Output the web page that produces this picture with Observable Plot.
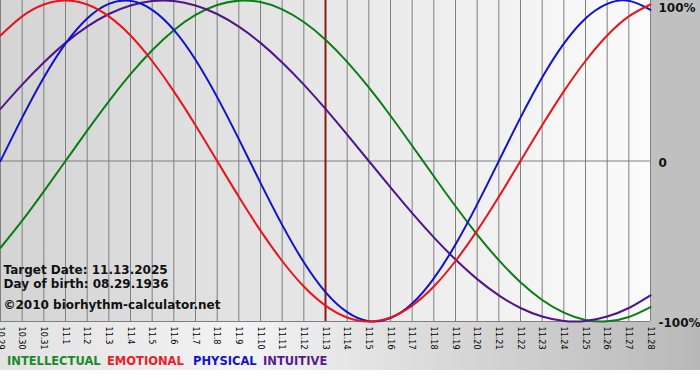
<!DOCTYPE html>
<html>
<head>
<meta charset="utf-8">
<script src="https://cdn.jsdelivr.net/npm/d3@7"></script>
<script src="https://cdn.jsdelivr.net/npm/@observablehq/plot@0.6"></script>
<style>
  html, body { margin: 0; padding: 0; background: #fff; }
  #wrap {
    position: relative; width: 700px; height: 380px; overflow: hidden;
    background:
      linear-gradient(to right, #d4d4d4, #fbfbfb) 0 0 / 650px 321px no-repeat,
      linear-gradient(#c0c0c0, #c0c0c0) 650px 0 / 50px 321px no-repeat,
      linear-gradient(to right, #e2e2e2, #f3f3f3 35%, #b8b8b8) 0 321px / 700px 49px no-repeat,
      #ffffff;
    font-family: "DejaVu Sans", Verdana, sans-serif;
  }
  #chart svg { display: block; background: transparent; }
  #legend { position: absolute; left: 0; top: 350px; width: 700px; height: 22px;
    font: bold 11.5px "DejaVu Sans", Verdana, sans-serif; }
  #legend span { position: absolute; top: 4px; white-space: nowrap; }
</style>
</head>
<body>
<div id="wrap">
  <div id="chart"></div>
  <div id="legend"></div>
</div>
<script>
// ---- data ----
const dayLabels = ["10.29","10.30","10.31","11.1","11.2","11.3","11.4","11.5","11.6","11.7","11.8","11.9","11.10","11.11","11.12","11.13","11.14","11.15","11.16","11.17","11.18","11.19","11.20","11.21","11.22","11.23","11.24","11.25","11.26","11.27","11.28"];
const physical = [0, 27.0, 52.0, 73.1, 88.8, 97.9, 99.8, 94.2, 81.7, 63.1, 39.8, 13.6, -13.6, -39.8, -63.1, -81.7, -94.2, -99.8, -97.9, -88.8, -73.1, -52.0, -27.0, 0, 27.0, 52.0, 73.1, 88.8, 97.9, 99.8, 94.2];
const emotional = [78.2, 90.1, 97.5, 100, 97.5, 90.1, 78.2, 62.3, 43.4, 22.3, 0, -22.3, -43.4, -62.3, -78.2, -90.1, -97.5, -100, -97.5, -90.1, -78.2, -62.3, -43.4, -22.3, 0, 22.3, 43.4, 62.3, 78.2, 90.1, 97.5];
const intellectual = [-54.1, -37.2, -18.9, 0, 18.9, 37.2, 54.1, 69.0, 81.5, 91.0, 97.2, 99.9, 99.0, 94.5, 86.6, 75.6, 61.8, 45.8, 28.2, 9.5, -9.5, -28.2, -45.8, -61.8, -75.6, -86.6, -94.5, -99.0, -99.9, -97.2, -91.0];
const intuitive = [32.5, 47.6, 61.4, 73.6, 83.7, 91.6, 96.9, 99.7, 99.7, 96.9, 91.6, 83.7, 73.6, 61.4, 47.6, 32.5, 16.5, 0, -16.5, -32.5, -47.6, -61.4, -73.6, -83.7, -91.6, -96.9, -99.7, -99.7, -96.9, -91.6, -83.7];
const seriesNames = ["INTELLECTUAL", "EMOTIONAL", "PHYSICAL", "INTUITIVE"];
const yTicks = [100, 0, -100];
const yTickLabels = ["100%", "0", "-100%"];
const targetLabel = "11.13";
const targetDate = "11.13.2025";
const birthDate = "08.29.1936";
const copyright = "\u00a92010 biorhythm-calculator.net";

// ---- styling ----
const colors = {INTELLECTUAL: "#0b7d16", EMOTIONAL: "#e8141c", PHYSICAL: "#1212cc", INTUITIVE: "#4d168a"};
const legendColors = {INTELLECTUAL: "#1a8a2a", EMOTIONAL: "#ee1c24", PHYSICAL: "#1414cc", INTUITIVE: "#5a1a8e"};
const legendLeft = {INTELLECTUAL: 7, EMOTIONAL: 107, PHYSICAL: 193, INTUITIVE: 263};

const values = {INTELLECTUAL: intellectual, EMOTIONAL: emotional, PHYSICAL: physical, INTUITIVE: intuitive};
const drawOrder = ["INTELLECTUAL", "INTUITIVE", "PHYSICAL", "EMOTIONAL"];
const idx = dayLabels.map((_, i) => i);
const targetIndex = dayLabels.indexOf(targetLabel);

const lineMarks = drawOrder.map(name =>
  Plot.line(values[name].map((v, i) => ({i, v})), {
    x: "i", y: "v", stroke: colors[name], strokeWidth: 2, curve: "natural"
  })
);

const bold = {fontWeight: "bold", fontSize: 12, fill: "#111", textAnchor: "start", frameAnchor: "bottom-left", dx: 3, fontFamily: "'DejaVu Sans', sans-serif"};
const yAxisStyle = {anchor: "right", tickSize: 0, tickPadding: 8, fontWeight: "bold", fontSize: 12, fill: "#111", fontFamily: "'DejaVu Sans', sans-serif", label: null};

const chart = Plot.plot({
  width: 700, height: 350,
  marginLeft: 0, marginRight: 50, marginTop: 0, marginBottom: 29,
  style: {background: "transparent", fontFamily: "'DejaVu Sans Condensed', 'DejaVu Sans', sans-serif", fontSize: "9px", color: "#000"},
  x: {domain: [0, dayLabels.length - 1], label: null},
  y: {domain: [-100, 100], label: null},
  marks: [
    Plot.ruleX(idx, {x: d => d, stroke: "#7f7f7f", strokeWidth: 1, strokeOpacity: 1}),
    Plot.ruleY([0, -100], {stroke: "#7f7f7f", strokeWidth: 1, strokeOpacity: 1}),
    Plot.ruleX([targetIndex], {stroke: "#8a1a1a", strokeWidth: 2}),
    ...lineMarks,
    Plot.text(["Target Date: " + targetDate], {...bold, text: d => d, dy: -48}),
    Plot.text(["Day of birth: " + birthDate], {...bold, text: d => d, dy: -34}),
    Plot.text([copyright], {...bold, text: d => d, dy: -13}),
    Plot.axisX({ticks: idx, tickFormat: i => dayLabels[i], tickRotate: 90, tickSize: 0, tickPadding: 5, fill: "#000", fontSize: 9, label: null}),
    Plot.axisY({...yAxisStyle, ticks: yTicks.slice(1), tickFormat: d => yTickLabels[yTicks.indexOf(d)], dy: 2}),
    Plot.axisY({...yAxisStyle, ticks: yTicks.slice(0, 1), tickFormat: d => yTickLabels[yTicks.indexOf(d)], dy: 8})
  ]
});
document.getElementById("chart").appendChild(chart);

const legend = document.getElementById("legend");
seriesNames.forEach(name => {
  const s = document.createElement("span");
  s.textContent = name;
  s.style.color = legendColors[name];
  s.style.left = legendLeft[name] + "px";
  legend.appendChild(s);
});
</script>
</body>
</html>
